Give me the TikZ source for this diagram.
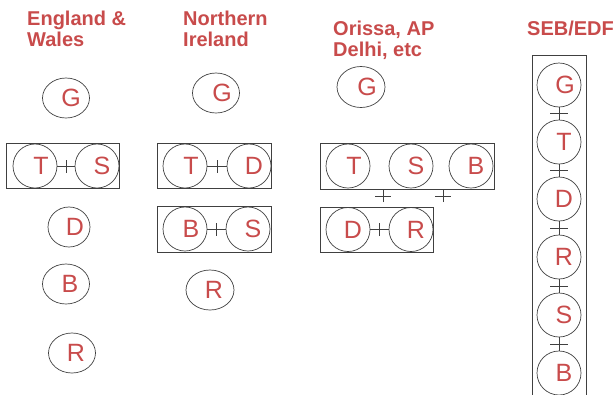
\documentclass[tikz,border=0pt]{standalone}
\usepackage{fontspec}
\setmainfont{Liberation Sans}
\usetikzlibrary{shapes.geometric,decorations.markings}
\definecolor{tred}{HTML}{C84B4B}
\definecolor{lgray}{HTML}{404040}
\begin{document}
\begin{tikzpicture}[x=1pt,y=-1pt,
  ttl/.style={anchor=base west,inner sep=0pt,text=tred,font=\fontsize{20}{21}\selectfont\bfseries},
  lbl/.style={text=tred,font=\fontsize{25}{25}\selectfont,inner sep=0pt},
  ell/.style={ellipse,draw=lgray,line width=0.7pt,minimum width=47pt,minimum height=40pt,inner sep=0pt},
  circ/.style={circle,draw=lgray,line width=0.7pt,minimum size=44pt,inner sep=0pt},
  boxl/.style={draw=lgray,line width=0.9pt},
  link/.style={draw=lgray,line width=0.8pt,decoration={markings,mark=at position 0.5 with {\draw[lgray,line width=0.9pt] (0pt,-#1)--(0pt,#1);}},postaction=decorate},
  link/.default=6.5pt
]
\clip (0,0) rectangle (613,394);
\useasboundingbox (0,0) rectangle (613,394);
% titles
\node[ttl] (t1a) at (27,25) {England \&};
\node[ttl] (t1b) at (27,46) {Wales};
\node[ttl] (t2a) at (183,25) {Northern};
\node[ttl] (t2b) at (183,46) {Ireland};
\node[ttl] (t3a) at (333,35) {Orissa, AP};
\node[ttl] (t3b) at (333,56) {Delhi, etc};
\node[ttl] (t4a) at (527,35) {SEB/EDF};
% England & Wales
\node[ell] (ewG) at (66,98) {};
\node[lbl] at ([xshift=5pt]ewG.center) {G};
\draw[boxl] (6,143) rectangle (119,188);
\node[circ] (ewT) at (35,166) {};
\node[lbl] at ([xshift=6pt]ewT.center) {T};
\node[circ] (ewS) at (97,166) {};
\node[lbl] at ([xshift=5pt]ewS.center) {S};
\draw[link] (ewT) -- (ewS);
\node[ell,minimum width=42pt] (ewD) at (69,227) {};
\node[lbl] at ([xshift=6pt]ewD.center) {D};
\node[ell] (ewB) at (66,284) {};
\node[lbl] at ([xshift=4pt]ewB.center) {B};
\node[ell] (ewR) at (72,353) {};
\node[lbl] at ([xshift=4pt]ewR.center) {R};
% Northern Ireland
\node[ell] (niG) at (216,93) {};
\node[lbl] at ([xshift=6pt]niG.center) {G};
\draw[boxl] (157,143) rectangle (271,188);
\node[circ] (niT) at (185,166) {};
\node[lbl] at ([xshift=6pt]niT.center) {T};
\node[circ] (niD) at (249,166) {};
\node[lbl] at ([xshift=5pt]niD.center) {D};
\draw[link] (niT) -- (niD);
\draw[boxl] (157,206) rectangle (271,252);
\node[circ] (niB) at (185,229) {};
\node[lbl] at ([xshift=6pt]niB.center) {B};
\node[circ] (niS) at (248,229) {};
\node[lbl] at ([xshift=5pt]niS.center) {S};
\draw[link] (niB) -- (niS);
\node[ell,minimum width=48pt] (niR) at (210,290) {};
\node[lbl] at ([xshift=4pt]niR.center) {R};
% Orissa, AP, Delhi
\node[ell,minimum width=48pt,minimum height=41pt] (orG) at (361,87) {};
\node[lbl] at ([xshift=6pt]orG.center) {G};
\draw[boxl] (320,143) rectangle (494,189);
\node[circ] (orT) at (348,166) {};
\node[lbl] at ([xshift=6pt]orT.center) {T};
\node[circ] (orS) at (411,166) {};
\node[lbl] at ([xshift=5pt]orS.center) {S};
\node[circ] (orB) at (471,166) {};
\node[lbl] at ([xshift=5pt]orB.center) {B};
\coordinate (p1) at (383,196);
\coordinate (p2) at (443,196);
\draw[lgray,line width=0.8pt] ([yshift=-6pt]p1) -- ([yshift=6pt]p1) ([xshift=-8pt]p1) -- ([xshift=8pt]p1);
\draw[lgray,line width=0.8pt] ([yshift=-6pt]p2) -- ([yshift=6pt]p2) ([xshift=-8pt]p2) -- ([xshift=8pt]p2);
\draw[boxl] (320,207) rectangle (433,252);
\node[circ] (orD) at (348,229.5) {};
\node[lbl] at ([xshift=5pt]orD.center) {D};
\node[circ] (orR) at (411,229.5) {};
\node[lbl] at ([xshift=5pt]orR.center) {R};
\draw[link] (orD) -- (orR);
% SEB/EDF
\draw[boxl] (532,55) rectangle (586,420);
\node[circ] (sG) at (559,85) {};
\node[lbl] at ([xshift=6pt]sG.center) {G};
\node[circ] (sT) at (559,142) {};
\node[lbl] at ([xshift=5pt]sT.center) {T};
\node[circ] (sD) at (559,199) {};
\node[lbl] at ([xshift=5pt]sD.center) {D};
\node[circ] (sR) at (559,257) {};
\node[lbl] at ([xshift=5pt]sR.center) {R};
\node[circ] (sS) at (559,315) {};
\node[lbl] at ([xshift=5pt]sS.center) {S};
\node[circ] (sB) at (559,373) {};
\node[lbl] at ([xshift=5pt]sB.center) {B};
\draw[link=9pt] (sG) -- (sT);
\draw[link=9pt] (sT) -- (sD);
\draw[link=9pt] (sD) -- (sR);
\draw[link=9pt] (sR) -- (sS);
\draw[link=9pt] (sS) -- (sB);
\end{tikzpicture}
\end{document}
